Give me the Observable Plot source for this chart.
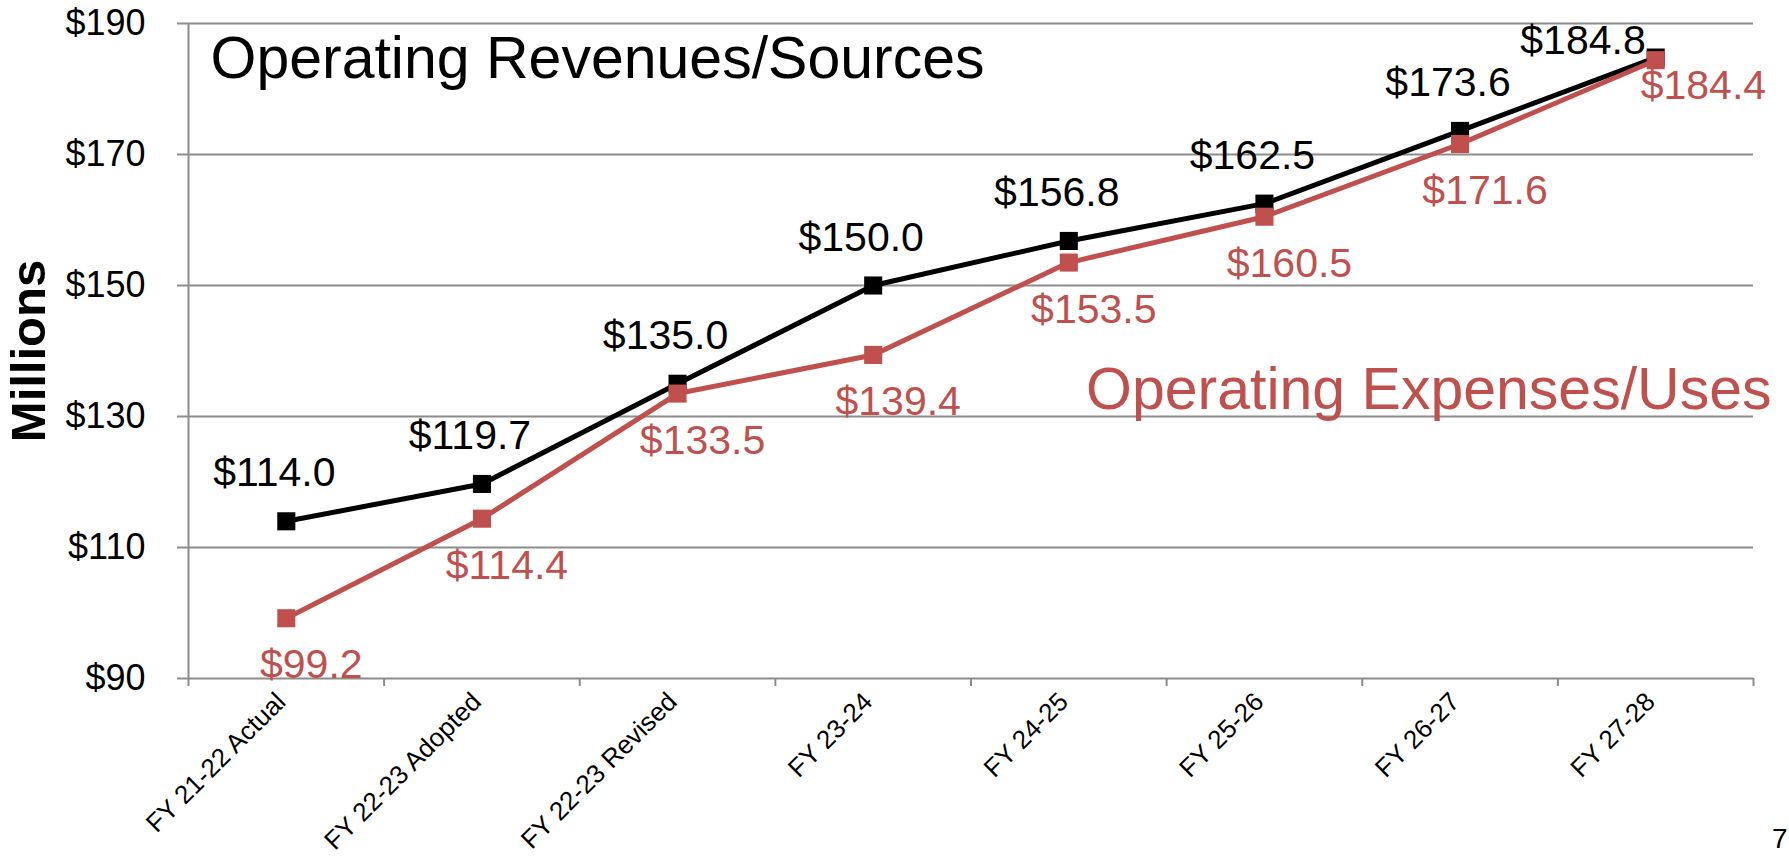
<!DOCTYPE html>
<html><head><meta charset="utf-8">
<script src="https://cdn.jsdelivr.net/npm/d3@7"></script>
<script src="https://cdn.jsdelivr.net/npm/@observablehq/plot@0.6"></script>
<style>html,body{margin:0;padding:0;background:#fff;overflow:hidden} svg{display:block}</style>
</head><body><div id="chart"></div>
<script>
const categories = ["FY 21-22 Actual","FY 22-23 Adopted","FY 22-23 Revised","FY 23-24","FY 24-25","FY 25-26","FY 26-27","FY 27-28"];
const revenues = [114.0,119.7,135.0,150.0,156.8,162.5,173.6,184.8];
const expenses = [99.2,114.4,133.5,139.4,153.5,160.5,171.6,184.4];
const yTicks = [90,110,130,150,170,190];
const seriesNames = ["Operating Revenues/Sources","Operating Expenses/Uses"];
const yAxisLabel = "Millions";
const pageNumber = "7";

const idx = categories.map((_, i) => i);
const boundaries = d3.range(categories.length + 1).map(i => i - 0.5);
const rev = idx.map(i => ({i, v: revenues[i]}));
const exp = idx.map(i => ({i, v: expenses[i]}));
const last = categories.length - 1;
const fmt = v => "$" + v.toFixed(1);
const RED = "#C0504D";
const GRID = "#8C8C8C";
const FONT = "'Liberation Sans', Arial, Helvetica, sans-serif";
const SQ = 10.2; // square marker radius

const chart = Plot.plot({
  width: 1789, height: 859,
  marginLeft: 188, marginRight: 36, marginTop: 23, marginBottom: 181,
  style: {fontFamily: FONT, background: "#fff", color: "#000", overflow: "visible"},
  x: {type: "linear", domain: [-0.5, categories.length - 0.5]},
  y: {domain: [90, 190]},
  marks: [
    Plot.gridY(yTicks, {stroke: GRID, strokeOpacity: 1, strokeWidth: 2}),
    Plot.ruleX([-0.5], {stroke: GRID, strokeWidth: 2}),
    Plot.axisY(yTicks, {tickFormat: d => "$" + d, tickSize: 11, tickPadding: 32, fontSize: 36, stroke: GRID, strokeWidth: 2, fill: "#000", label: null}),
    Plot.axisX(boundaries, {tickFormat: () => "", tickSize: 8, stroke: GRID, strokeWidth: 2, label: null}),
    Plot.axisX(idx, {tickFormat: i => categories[i], tickRotate: -45, tickSize: 0, tickPadding: 19, dx: -5, fontSize: 26, fill: "#000", label: null}),
    Plot.line(rev, {x: "i", y: "v", stroke: "#000", strokeWidth: 5}),
    Plot.dot(rev, {x: "i", y: "v", symbol: "square", r: SQ, fill: "#000", stroke: null}),
    Plot.line(exp, {x: "i", y: "v", stroke: RED, strokeWidth: 5}),
    Plot.dot(exp, {x: "i", y: "v", symbol: "square", r: SQ, fill: RED, stroke: null}),
    Plot.text(rev.filter(d => d.i < last), {x: "i", y: "v", text: d => fmt(d.v), dx: -12, dy: -48, fontSize: 41, fill: "#000", lineAnchor: "middle"}),
    Plot.text(rev.filter(d => d.i === last), {x: "i", y: "v", text: d => fmt(d.v), dx: -10, dy: -17, fontSize: 41, fill: "#000", textAnchor: "end", lineAnchor: "middle"}),
    Plot.text(exp.filter(d => d.i < last), {x: "i", y: "v", text: d => fmt(d.v), dx: 25, dy: 47, fontSize: 41, fill: RED, lineAnchor: "middle"}),
    Plot.text(exp.filter(d => d.i === last), {x: "i", y: "v", text: d => fmt(d.v), dx: -15, dy: 26, fontSize: 41, fill: RED, textAnchor: "start", lineAnchor: "middle"}),
    Plot.text([seriesNames[0]], {text: d => d, frameAnchor: "top-left", textAnchor: "start", lineAnchor: "top", dx: 22, dy: 13, fontSize: 59, fill: "#000"}),
    Plot.text([seriesNames[1]], {text: d => d, frameAnchor: "top-right", textAnchor: "end", lineAnchor: "bottom", dx: 18, dy: 385, fontSize: 59, fill: RED}),
    Plot.text([yAxisLabel], {text: d => d, frameAnchor: "left", rotate: -90, dx: -159, fontSize: 49, fontWeight: "bold", fill: "#000", textAnchor: "middle", lineAnchor: "middle"}),
    Plot.text([pageNumber], {text: d => d, frameAnchor: "bottom-right", textAnchor: "end", lineAnchor: "bottom", dx: 34, dy: 169, fontSize: 28, fill: "#000"})
  ]
});
document.getElementById("chart").appendChild(chart);
</script>
</body></html>
